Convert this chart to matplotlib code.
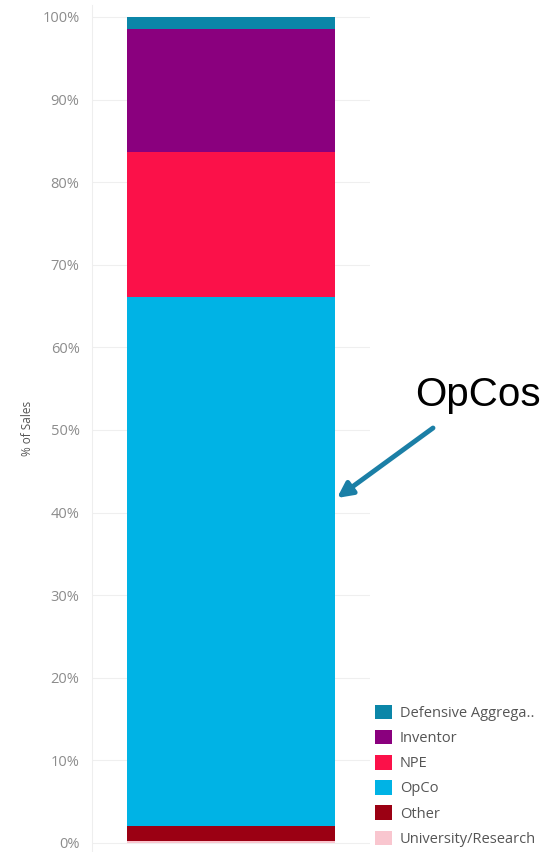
import matplotlib
matplotlib.use("Agg")
import matplotlib.pyplot as plt
from matplotlib.patches import Patch

# stacked shares of sales, bottom to top
categories = ["University/Research", "Other", "OpCo", "NPE", "Inventor", "Defensive Aggrega.."]
shares = [0.3, 1.7, 64.1, 17.5, 14.9, 1.5]
colors = ["#f9c6cf", "#9b0013", "#00b3e5", "#fb1149", "#8a007e", "#0b86a8"]
yticks = list(range(0, 101, 10))

plt.rcParams["font.family"] = ["Open Sans", "DejaVu Sans"]

fig = plt.figure(figsize=(5.45, 8.52), dpi=100)
ax = fig.add_axes([92 / 545, 0 / 852, 278 / 545, 847 / 852])

bottom = 0.0
for cat, val, col in zip(categories, shares, colors):
    ax.bar(0, val, bottom=bottom, width=0.745, color=col, edgecolor="none", zorder=3)
    bottom += val

ax.set_xlim(-0.5, 0.5)
ax.set_ylim(-1.09, 101.45)
ax.set_yticks(yticks)
ax.set_yticklabels([f"{t}%" for t in yticks], color="#8c8c8c", fontsize=10.5)
ax.set_xticks([])
ax.tick_params(axis="y", length=0, pad=9)
ax.grid(axis="y", color="#efefef", linewidth=0.8, zorder=0)
for s in ["top", "right", "bottom"]:
    ax.spines[s].set_visible(False)
ax.spines["left"].set_color("#eeeeee")
ax.set_ylabel("% of Sales", color="#555555", fontsize=8.5, labelpad=6)

handles = [Patch(facecolor=c, label=n) for n, c in zip(categories, colors)][::-1]
fig.legend(handles=handles, loc="lower left", bbox_to_anchor=(362 / 545, -8 / 852),
           frameon=False, fontsize=10.5, labelcolor="#555555", handlelength=1.15,
           handleheight=1.15, handletextpad=0.55, labelspacing=0.62)

fig.text(478 / 545, 1 - 395 / 852, "OpCos", fontsize=29, ha="center", va="center",
         family=["Liberation Sans", "DejaVu Sans"])
ax.annotate("", xy=(337 / 545, 1 - 498 / 852), xycoords="figure fraction",
            xytext=(433 / 545, 1 - 428 / 852), textcoords="figure fraction",
            arrowprops=dict(arrowstyle="-|>,head_length=0.9,head_width=0.45",
                            color="#1b7fa6", lw=3.5, shrinkA=0, shrinkB=0),
            annotation_clip=False)

fig.savefig("out.png", dpi=100)
